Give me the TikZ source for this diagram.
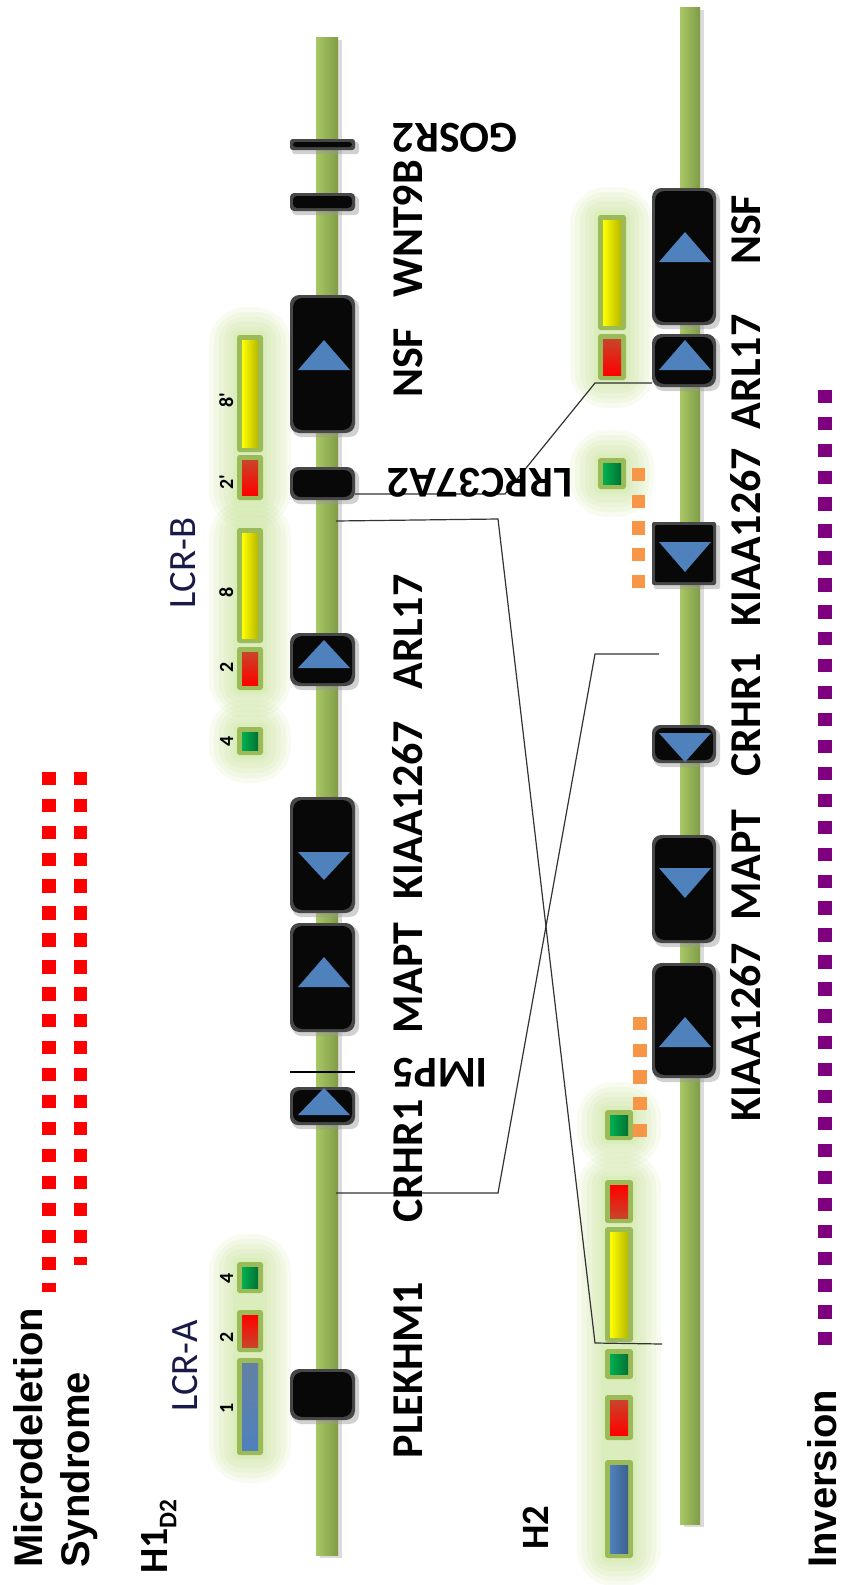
\documentclass[tikz,border=0pt]{standalone}
\usepackage{fontspec}
\newfontfamily\calfont{Carlito}
\newfontfamily\arifont{Liberation Sans}
\definecolor{barL}{HTML}{A8C764}
\definecolor{barR}{HTML}{7F9C46}
\definecolor{triblue}{HTML}{4F81BD}
\definecolor{glowc}{HTML}{C4E28A}
\definecolor{segframe}{HTML}{9BBB59}
\definecolor{segyel}{HTML}{FFFF00}
\definecolor{segred}{HTML}{FF0000}
\definecolor{segredd}{HTML}{C8452A}
\definecolor{seggrn}{HTML}{00B050}
\definecolor{segblu}{HTML}{4F81BD}
\definecolor{navy}{HTML}{1A1A48}
\definecolor{orangedot}{HTML}{F79646}
\definecolor{purpledot}{HTML}{7F007F}
\definecolor{reddot}{HTML}{FF0000}
\newcommand\glowbox[4]{%
  \foreach \d in {28,23,18,13,8,4}{%
    \fill[glowc,opacity=0.12,rounded corners=\d pt] ({#1-\d},{#2-\d}) rectangle ({#3+\d},{#4+\d});
  }%
}
\newcommand\segbox[5]{%
  \fill[segframe,rounded corners=2pt] (#1,#2) rectangle (#3,#4);
  \path[#5] ({#1+5},{#2+5}) rectangle ({#3-5},{#4-5});
}
\newcommand\genebox[5]{%
  \fill[black!40,opacity=0.45,rounded corners=#5] ({#1+2},{#2+3}) rectangle ({#3+4},{#4+4});
  \fill[black!72,rounded corners=#5] (#1,#2) rectangle (#3,#4);
  \fill[black!97,rounded corners=#5] ({#1+3},{#2+3}) rectangle ({#3-3},{#4-3});
}
\newcommand\tri[3]{%
  \fill[triblue] ({#1-26},#2) -- ({#1+26},#2) -- (#1,#3) -- cycle;
}
\begin{document}
\begin{tikzpicture}[x=0.75pt,y=-0.75pt,
  yel/.style={left color=segyel,right color=segyel!72!black},
  redd/.style={top color=segredd,bottom color=segred},
  redu/.style={top color=segred,bottom color=segredd},
  grn/.style={left color=seggrn,right color=seggrn!65!black},
  blu/.style={top color=segblu!60!gray,bottom color=segblu},
  blu2/.style={left color=segblu,right color=segblu!75!black},
  gene/.style={font=\calfont\bfseries\fontsize{33pt}{33pt}\selectfont,inner sep=0pt,anchor=base},
  num/.style={font=\calfont\bfseries\fontsize{15pt}{15pt}\selectfont,inner sep=0pt,anchor=base,rotate=90},
  lcr/.style={font=\calfont\fontsize{29pt}{29pt}\selectfont,text=navy,inner sep=0pt,anchor=base,rotate=90},
  big/.style={font=\arifont\bfseries\fontsize{30pt}{30pt}\selectfont,inner sep=0pt,anchor=base west,rotate=90},
  conn/.style={draw=black!80,line width=0.9pt},
  dots/.style={line width=10pt,dash pattern=on 10pt off 10.2pt}]
\useasboundingbox (0,0) rectangle (842,1585);
\fill[white] (0,0) rectangle (842,1585);

% ---------- glows ----------
\glowbox{237}{1262}{263}{1455}
\glowbox{237}{727}{263}{755}
\glowbox{237}{528}{263}{690}
\glowbox{237}{335}{263}{500}
\glowbox{598}{215}{626}{380}
\glowbox{598}{458}{626}{489}
\glowbox{605}{1110}{633}{1140}
\glowbox{605}{1180}{633}{1558}

% ---------- chromosome bars ----------
\fill[black!35,opacity=0.4] (320,40) rectangle (342,1558);
\path[left color=barL,right color=barR] (316,37) rectangle (338,1555);
\fill[black!35,opacity=0.4] (684,10) rectangle (704,1527);
\path[left color=barL,right color=barR] (680,7) rectangle (700,1524);

% ---------- H1 genes ----------
\genebox{290}{139}{355}{150}{2pt}
\genebox{290}{193}{355}{211}{3pt}
\genebox{290}{295}{355}{433}{7pt}
\tri{324}{370}{340}
\genebox{290}{467}{355}{500}{6pt}
\genebox{290}{633}{355}{686}{7pt}
\tri{324}{668}{640}
\genebox{290}{797}{355}{913}{7pt}
\tri{324}{852}{880}
\genebox{290}{923}{355}{1032}{7pt}
\tri{324}{987}{957}
\draw[black,line width=1.5pt] (290,1072) -- (355,1072);
\genebox{290}{1087}{355}{1125}{6pt}
\tri{324}{1115}{1088}
\genebox{290}{1369}{355}{1420}{7pt}

% ---------- H2 genes ----------
\genebox{652}{188}{716}{325}{7pt}
\tri{685}{262}{232}
\genebox{652}{334}{716}{387}{7pt}
\tri{685}{370}{340}
\genebox{652}{522}{716}{585}{1.5pt}
\tri{685}{542}{572}
\genebox{652}{725}{716}{763}{6pt}
\tri{685}{733}{762}
\genebox{652}{835}{716}{943}{7pt}
\tri{685}{868}{898}
\genebox{652}{963}{716}{1078}{7pt}
\tri{685}{1047}{1017}

% ---------- segments H1 ----------
\segbox{237}{1358}{263}{1455}{blu}
\segbox{237}{1310}{263}{1352}{redu}
\segbox{237}{1262}{263}{1293}{grn}
\segbox{237}{727}{263}{755}{grn}
\segbox{237}{647}{263}{690}{redd}
\segbox{237}{528}{263}{643}{yel}
\segbox{237}{455}{263}{500}{redd}
\segbox{237}{335}{263}{452}{yel}

% ---------- segments H2 ----------
\segbox{598}{215}{626}{330}{yel}
\segbox{598}{334}{626}{380}{redd}
\segbox{598}{458}{626}{489}{grn}
\segbox{605}{1110}{633}{1140}{grn}
\segbox{605}{1180}{633}{1223}{redu}
\segbox{605}{1227}{633}{1342}{yel}
\segbox{605}{1349}{633}{1379}{grn}
\segbox{605}{1395}{633}{1440}{redd}
\segbox{605}{1460}{633}{1558}{blu2}

% ---------- dotted lines ----------
\draw[dots,draw=reddot] (49,771.7) -- (49,1292);
\draw[dots,draw=reddot] (80.5,771.7) -- (80.5,1265);
\draw[dots,draw=purpledot] (825,389.7) -- (825,1345);
\draw[dots,draw=orangedot,dash pattern=on 10pt off 10pt] (638.5,468) -- (638.5,588);
\draw[dots,draw=orangedot,dash pattern=on 10pt off 10pt] (640,1017) -- (640,1137);

% ---------- connectors ----------
\coordinate (a1) at (336,521);
\coordinate (a2) at (498,519);
\coordinate (a3) at (595,1343);
\coordinate (a4) at (662,1344);
\coordinate (b1) at (336,1193);
\coordinate (b2) at (498,1193);
\coordinate (b3) at (595,654);
\coordinate (b4) at (659,654);
\coordinate (c1) at (355,494);
\coordinate (c2) at (505,494);
\coordinate (c3) at (595,383);
\coordinate (c4) at (652,383);
\draw[conn] (a1) -- (a2) -- (a3) -- (a4);
\draw[conn] (b1) -- (b2) -- (b3) -- (b4);
\draw[conn] (c1) -- (c2) -- (c3) -- (c4);

% ---------- gene labels H1 ----------
\node[gene,rotate=90] (l1) at (422,229) {WNT9B};
\node[gene,rotate=90] (l2) at (422,363) {NSF};
\node[gene,rotate=90] (l3) at (422,632) {ARL17};
\node[gene,rotate=90] (l4) at (422,810) {KIAA1267};
\node[gene,rotate=90] (l5) at (422,978) {MAPT};
\node[gene,rotate=90] (l6) at (422,1161) {CRHR1};
\node[gene,rotate=90] (l7) at (422,1370) {PLEKHM1};
\node[gene,rotate=180] (l8) at (455,123) {GOSR2};
\node[gene,rotate=180] (l9) at (480,468) {LRRC37A2};
\node[gene,rotate=180] (l10) at (440,1058) {IMP5};

% ---------- gene labels H2 ----------
\node[gene,rotate=90] (m1) at (760,230) {NSF};
\node[gene,rotate=90] (m2) at (760,372) {ARL17};
\node[gene,rotate=90] (m3) at (760,537) {KIAA1267};
\node[gene,rotate=90] (m4) at (760,715) {CRHR1};
\node[gene,rotate=90] (m5) at (760,865) {MAPT};
\node[gene,rotate=90] (m6) at (760,1032) {KIAA1267};

% ---------- segment numbers ----------
\node[num] (n1) at (233,1408) {1};
\node[num] (n2) at (233,1337) {2};
\node[num] (n3) at (233,1278) {4};
\node[num] (n4) at (233,741) {4};
\node[num] (n5) at (233,667) {2};
\node[num] (n6) at (233,592) {8};
\node[num] (n7) at (233,482) {2'};
\node[num] (n8) at (233,400) {8'};

% ---------- LCR labels ----------
\node[lcr] (lcra) at (197,1366) {LCR-A};
\node[lcr] (lcrb) at (195,563) {LCR-B};

% ---------- haplotype and titles ----------
\node[inner sep=0pt,anchor=base west,rotate=90,font=\calfont\bfseries\fontsize{30pt}{30pt}\selectfont] (h1) at (167,1574) {H1\raisebox{-7pt}{\fontsize{19pt}{19pt}\selectfont D2}};
\node[inner sep=0pt,anchor=base west,rotate=90,font=\calfont\bfseries\fontsize{29pt}{29pt}\selectfont] (h2) at (548,1550) {H2};
\node[big] (t1) at (42,1568) {Microdeletion};
\node[big] (t2) at (89,1568) {Syndrome};
\node[big] (t3) at (836,1568) {Inversion};
\end{tikzpicture}
\end{document}
